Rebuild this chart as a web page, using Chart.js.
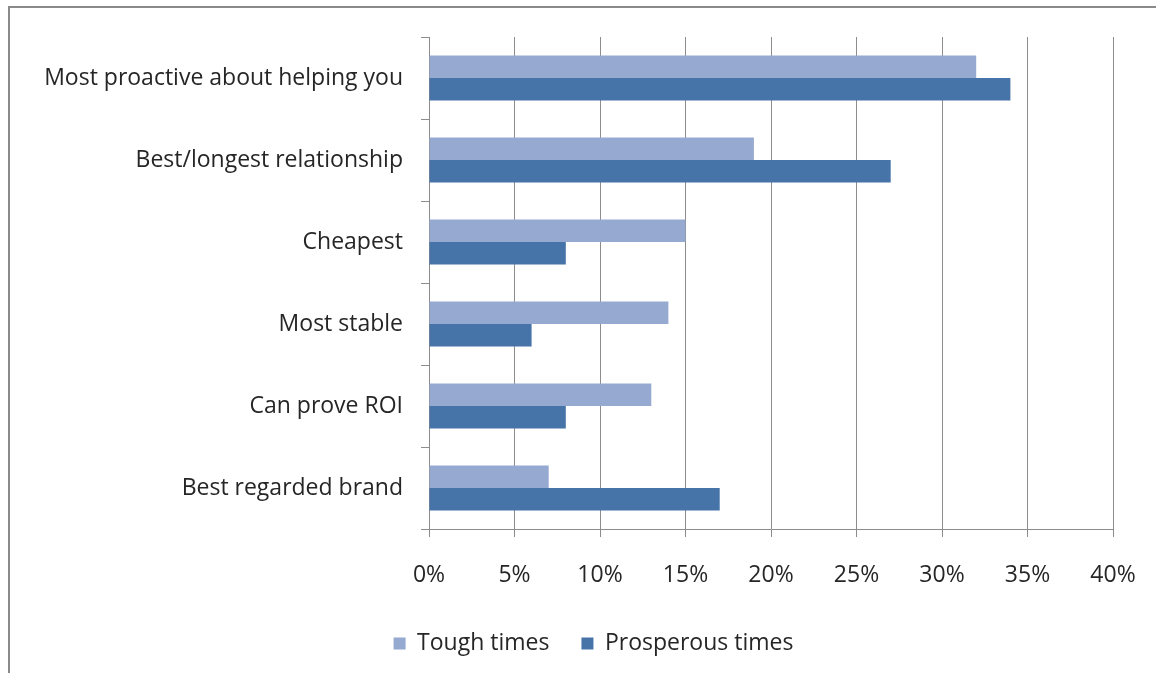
<!DOCTYPE html>
<html>
<head>
<meta charset="utf-8">
<script src="https://cdn.jsdelivr.net/npm/chart.js@4"></script>
<style>
  html, body { margin: 0; padding: 0; background: #fff; }
  #wrap { position: relative; width: 1156px; height: 673px; overflow: hidden; }
  #frame { position: absolute; left: 8px; top: 6px; width: 1200px; height: 700px;
           border-left: 2px solid #8a8a8a; border-top: 2px solid #8a8a8a; }
  canvas { position: absolute; left: 0; top: 0; }
</style>
</head>
<body>
<div id="wrap">
  <div id="frame"></div>
  <canvas id="myChart" width="1156" height="673"></canvas>
</div>
<script>
const categories = ['Most proactive about helping you', 'Best/longest relationship', 'Cheapest', 'Most stable', 'Can prove ROI', 'Best regarded brand'];
const toughTimes = [32, 19, 15, 14, 13, 7];
const prosperousTimes = [34, 27, 8, 6, 8, 17];
const xTicks = [0, 5, 10, 15, 20, 25, 30, 35, 40];

const ctx = document.getElementById('myChart');
const font = { family: 'Open Sans', size: 23 };

// legend sits a bit right of the canvas centre in the original
const legendShift = {
  id: 'legendShift',
  afterLayout(chart) {
    chart.legend.left += 37;
    chart.legend.right += 37;
  }
};

new Chart(ctx, {
  type: 'bar',
  data: {
    labels: categories,
    datasets: [{
      label: 'Tough times',
      data: toughTimes,
      backgroundColor: '#95a9d1',
      categoryPercentage: 0.55,
      barPercentage: 1.0
    }, {
      label: 'Prosperous times',
      data: prosperousTimes,
      backgroundColor: '#4673a8',
      categoryPercentage: 0.55,
      barPercentage: 1.0
    }]
  },
  plugins: [legendShift],
  options: {
    indexAxis: 'y',
    responsive: false,
    animation: false,
    layout: { padding: { top: 37, right: 43, bottom: 8, left: 0 } },
    plugins: {
      legend: {
        position: 'bottom',
        labels: { font: font, color: '#262626', boxWidth: 12, boxHeight: 12, padding: 32 }
      },
      tooltip: { enabled: false }
    },
    scales: {
      x: {
        min: 0, max: 40,
        afterBuildTicks: s => { s.ticks = xTicks.map(v => ({ value: v })); },
        afterFit: s => { s.height = 71; s.paddingLeft = 0; s.paddingRight = 0; },
        ticks: { font: font, color: '#262626', padding: 25, callback: v => v + '%' },
        grid: { color: '#8c8c8c', tickLength: 8 },
        border: { color: '#8c8c8c' }
      },
      y: {
        afterFit: s => { s.width = 429; },
        ticks: { font: font, color: '#262626', padding: 18 },
        grid: { drawOnChartArea: false, color: '#8c8c8c', tickLength: 8, offset: true },
        border: { color: '#8c8c8c' }
      }
    }
  }
});
</script>
</body>
</html>
